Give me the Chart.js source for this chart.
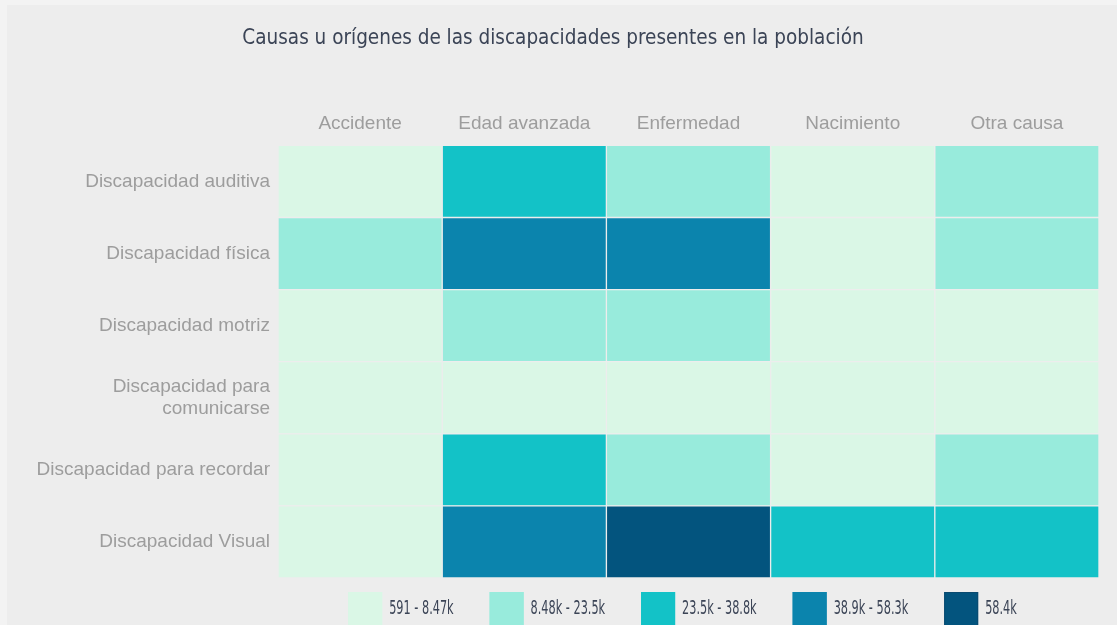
<!DOCTYPE html>
<html>
<head>
<meta charset="utf-8">
<script src="https://cdn.jsdelivr.net/npm/chart.js@4.4.0/dist/chart.umd.min.js"></script>
<style>
  html, body { margin: 0; padding: 0; background: #f3f3f3; overflow: hidden; }
  #wrap { position: absolute; left: 7px; top: 5px; width: 1110px; height: 620px; background: #ededed; }
</style>
</head>
<body>
<div id="wrap"><canvas id="heat" width="1110" height="620"></canvas></div>
<script>
// rows (y) and columns (x) of the heatmap
const rows = [
  "Discapacidad auditiva",
  "Discapacidad física",
  "Discapacidad motriz",
  ["Discapacidad para", "comunicarse"],
  "Discapacidad para recordar",
  "Discapacidad Visual"
];
const causes = ["Accidente", "Edad avanzada", "Enfermedad", "Nacimiento", "Otra causa"];

// values per cause, one per row (estimated from the colour bins)
const accidente = [3120, 17600, 2450, 591, 1470, 6800];
const edadAvanzada = [31500, 52400, 11900, 1250, 26300, 44100];
const enfermedad = [14200, 47900, 10400, 1840, 19800, 58400];
const nacimiento = [5300, 6100, 1980, 4720, 3650, 36200];
const otraCausa = [12800, 15300, 2870, 980, 9200, 29700];

// colour bins
const binMins = [591, 8480, 23500, 38900, 58400];
const binLabels = ["591 - 8.47k", "8.48k - 23.5k", "23.5k - 38.8k", "38.9k - 58.3k", "58.4k"];
const binColors = ["#daf7e6", "#98ebdc", "#13c2c7", "#0b84ad", "#03547e"];

const condensed = "'Liberation Sans Narrow', 'DejaVu Sans Condensed', 'Roboto Condensed', 'Noto Sans', sans-serif";
const labelFont = "'Liberation Sans', Arial, sans-serif";

function colorFor(v) {
  let c = binColors[0];
  binMins.forEach((m, i) => { if (v >= m) c = binColors[i]; });
  return c;
}

const series = [accidente, edadAvanzada, enfermedad, nacimiento, otraCausa];

// each cause is one floating bar per row, spanning its column on the x scale
const datasets = series.map((vals, col) => ({
  label: causes[col],
  data: vals.map(() => [col, col + 1]),
  backgroundColor: vals.map(colorFor),
  borderColor: "#ededed",
  borderWidth: 1,
  borderSkipped: false,
  grouped: false,
  categoryPercentage: 1,
  barPercentage: 1,
  xAxisID: "x"
}));

// bin legend under the grid, centred on the chart area
const binLegend = {
  id: "binLegend",
  afterDraw(chart) {
    const ctx = chart.ctx;
    const area = chart.chartArea;
    const box = 34, gap = 7, space = 36, squeeze = 0.66;
    ctx.save();
    ctx.font = "19px " + condensed;
    const widths = binLabels.map(t => ctx.measureText(t).width * squeeze);
    const total = widths.reduce((a, w) => a + box + gap + w, 0) + space * (binLabels.length - 1);
    let x = (area.left + area.right) / 2 - 6 - total / 2;
    const top = area.bottom + 14;
    binLabels.forEach((t, i) => {
      ctx.fillStyle = binColors[i];
      ctx.fillRect(x, top, box, box);
      ctx.strokeStyle = i === binLabels.length - 1 ? "#0a4a70" : binColors[i];
      ctx.lineWidth = 1;
      ctx.strokeRect(x + 0.5, top + 0.5, box - 1, box - 1);
      ctx.fillStyle = "#3b4456";
      ctx.textBaseline = "middle";
      ctx.textAlign = "left";
      ctx.fillText(t, x + box + gap, top + box / 2, widths[i]);
      x += box + gap + widths[i] + space;
    });
    ctx.restore();
  }
};

new Chart(document.getElementById("heat"), {
  type: "bar",
  data: { labels: rows, datasets: datasets },
  plugins: [binLegend],
  options: {
    indexAxis: "y",
    responsive: false,
    animation: false,
    events: [],
    layout: { padding: { left: 0, right: 18, bottom: 47 } },
    scales: {
      x: { type: "linear", min: 0, max: 5, display: false },
      xTop: {
        type: "category",
        position: "top",
        labels: causes,
        offset: true,
        grid: { display: false, drawTicks: false },
        border: { display: false },
        ticks: { color: "#9d9d9d", font: { family: labelFont, size: 19 }, padding: 10 }
      },
      y: {
        type: "category",
        offset: true,
        grid: { display: false, drawTicks: false },
        border: { display: false },
        ticks: { color: "#9d9d9d", font: { family: labelFont, size: 19 }, padding: 8 },
        afterFit: (s) => { s.width = 271; }
      }
    },
    plugins: {
      tooltip: { enabled: false },
      legend: { display: false },
      title: {
        display: true,
        text: "Causas u orígenes de las discapacidades presentes en la población",
        color: "#3b4456",
        font: { family: condensed, size: 20.5, weight: "normal" },
        padding: { top: 21, bottom: 52 }
      }
    }
  }
});
</script>
</body>
</html>
